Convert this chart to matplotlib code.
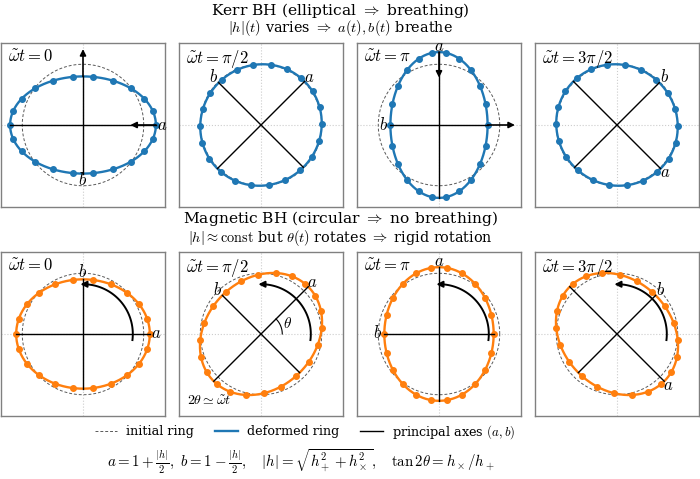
"""Ring of test particles deformed by h_+/h_x: Kerr (breathing) vs magnetic (rigid rotation)."""

import numpy as np
import matplotlib
matplotlib.use("Agg")
import matplotlib.pyplot as plt
from matplotlib.lines import Line2D

plt.rcParams["font.family"] = "serif"
plt.rcParams["font.serif"] = ["DejaVu Serif"]
plt.rcParams["mathtext.fontset"] = "cm"
plt.rcParams["axes.unicode_minus"] = False

PHASES = [r"$\tilde{\omega}t=0$", r"$\tilde{\omega}t=\pi/2$",
          r"$\tilde{\omega}t=\pi$", r"$\tilde{\omega}t=3\pi/2$"]

# Kerr: h_+ oscillates, h_x tiny -> a, b breathe
KERR_HPLUS = [0.40, 0.0, -0.40, 0.0]
KERR_HCROSS = [0.0, 0.03, 0.0, -0.03]
KERR_B_LABEL_SIDE = [-1, 1, 1, 1]
KERR_ARROWS = [True, False, True, False]
KERR_A_ARROW_TO = 0.78
KERR_B_ARROW_TO = 1.25

# magnetic: |h| fixed, polarisation angle rotates
MAG_HPLUS = [0.20, 0.0, -0.20, 0.0]
MAG_HCROSS = [0.0, 0.20, 0.0, -0.20]
MAG_SWEEP_DEG = [-7, 93]
MAG_SWEEP_R = 0.82

N_PARTICLES = 22
LIM = 1.35

BLUE = "#1f77b4"
ORANGE = "#ff7f0e"


def ring(phi, hp, hx):
    x = (1 + hp / 2) * np.cos(phi) + hx / 2 * np.sin(phi)
    y = hx / 2 * np.cos(phi) + (1 - hp / 2) * np.sin(phi)
    return x, y


def arrow(ax, tail, tip, lw=1.2):
    ax.annotate("", xy=tip, xytext=tail,
                arrowprops=dict(arrowstyle="-|>", color="k", lw=lw,
                                mutation_scale=9, shrinkA=0, shrinkB=0))


def set_fs(artist, fs):
    if hasattr(artist, "set_fontsize"):
        artist.set_fontsize(fs)
    else:
        for t in artist.get_texts():
            t.set_fontsize(fs)


def fit_width(fig, artist, target_px, fontsize):
    # scale the font so the rendered width matches the reference layout
    r = fig.canvas.get_renderer()
    for _ in range(3):
        w = artist.get_window_extent(r).width
        fontsize *= target_px / w
        set_fs(artist, fontsize)
    return fontsize


def panel(ax, hp, hx, color, title, b_side=1):
    ax.set_xlim(-LIM, LIM); ax.set_ylim(-LIM, LIM)
    ax.set_aspect("equal")
    ax.set_xticks([0]); ax.set_yticks([0])
    ax.tick_params(length=0, labelbottom=False, labelleft=False)
    ax.grid(True, ls=":", color="0.8", lw=0.8)
    for s in ax.spines.values():
        s.set_color("0.5"); s.set_linewidth(1.0)

    phi = np.linspace(0, 2 * np.pi, 400)
    ax.plot(np.cos(phi), np.sin(phi), ls="--", color="0.35", lw=0.7, dashes=(3, 2))
    x, y = ring(phi, hp, hx)
    ax.plot(x, y, color=color, lw=1.7)
    pk = 2 * np.pi * np.arange(N_PARTICLES) / N_PARTICLES
    xk, yk = ring(pk, hp, hx)
    ax.plot(xk, yk, "o", color=color, ms=4)

    hmag = np.hypot(hp, hx)
    th = 0.5 * np.arctan2(hx, hp)
    a, b = 1 + hmag / 2, 1 - hmag / 2
    u = np.array([np.cos(th), np.sin(th)])
    v = np.array([-np.sin(th), np.cos(th)])
    ax.plot([-a * u[0], a * u[0]], [-a * u[1], a * u[1]], color="k", lw=1.0)
    ax.plot([-b * v[0], b * v[0]], [-b * v[1], b * v[1]], color="k", lw=1.0)
    pa = (a + 0.1) * u
    pb = b_side * (b + 0.11) * v
    ax.text(pa[0], pa[1], "$a$", ha="center", va="center", fontsize=12)
    ax.text(pb[0], pb[1], "$b$", ha="center", va="center", fontsize=12)
    ax.text(0.04, 0.97, title, transform=ax.transAxes, ha="left", va="top", fontsize=12)
    return a, b, u, v, th


def main():
    fig = plt.figure(figsize=(7.0, 4.79), dpi=100)
    W, H = 700, 479
    lefts = [1, 179, 357, 535]
    size = 164
    tops = [43, 252]

    axes = [[fig.add_axes([l / W, (H - t - size) / H, size / W, size / H]) for l in lefts]
            for t in tops]

    for i, ax in enumerate(axes[0]):
        a, b, u, v, th = panel(ax, KERR_HPLUS[i], KERR_HCROSS[i], BLUE, PHASES[i],
                               KERR_B_LABEL_SIDE[i])
        if KERR_ARROWS[i]:
            arrow(ax, a * u, KERR_A_ARROW_TO * u)
            s = -KERR_B_LABEL_SIDE[i]
            arrow(ax, s * b * v, s * KERR_B_ARROW_TO * v)

    for i, ax in enumerate(axes[1]):
        a, b, u, v, th = panel(ax, MAG_HPLUS[i], MAG_HCROSS[i], ORANGE, PHASES[i])
        ang = np.radians(np.linspace(MAG_SWEEP_DEG[0], MAG_SWEEP_DEG[1] - 4, 100))
        ax.plot(MAG_SWEEP_R * np.cos(ang), MAG_SWEEP_R * np.sin(ang), color="k", lw=1.4)
        t0, t1 = np.radians(MAG_SWEEP_DEG[1] - 6), np.radians(MAG_SWEEP_DEG[1])
        arrow(ax, (MAG_SWEEP_R * np.cos(t0), MAG_SWEEP_R * np.sin(t0)),
              (MAG_SWEEP_R * np.cos(t1), MAG_SWEEP_R * np.sin(t1)), lw=1.4)
        if i == 1:
            sa = np.linspace(0, th, 40)
            ax.plot(0.35 * np.cos(sa), 0.35 * np.sin(sa), color="k", lw=0.8)
            ax.text(0.47 * np.cos(th / 2), 0.47 * np.sin(th / 2), r"$\theta$",
                    ha="center", va="center", fontsize=11)
            ax.text(0.05, 0.05, r"$2\theta\simeq\tilde{\omega}t$", transform=ax.transAxes,
                    ha="left", va="bottom", fontsize=10)

    cx = 340 / W
    titles = [(11, r"Kerr BH (elliptical $\Rightarrow$ breathing)", 258),
              (218.5, r"Magnetic BH (circular $\Rightarrow$ no breathing)", 315)]
    subs = [(28.5, r"$|h|(t)$ varies $\Rightarrow$ $a(t),b(t)$ breathe", 219),
            (237.5, r"$|h|\approx\mathrm{const}$ but $\theta(t)$ rotates $\Rightarrow$ rigid rotation",
             312)]
    for group, fs0 in [(titles, 11.5), (subs, 9.5)]:
        txts, sizes = [], []
        for y, s, target in group:
            t = fig.text(cx, 1 - y / H, s, ha="center", va="center", fontsize=fs0)
            sizes.append(fit_width(fig, t, target, fs0))
            txts.append(t)
        # same size for the pair, as in the reference
        for t in txts:
            t.set_fontsize(np.mean(sizes))

    handles = [Line2D([], [], ls="--", color="0.35", lw=0.7, dashes=(3, 2)),
               Line2D([], [], color=BLUE, lw=1.7),
               Line2D([], [], color="k", lw=1.0)]
    labels = ["initial ring", "deformed ring", "principal axes $(a,b)$"]
    leg = fig.legend(handles, labels, loc="center", bbox_to_anchor=(305 / W, 1 - 432 / H),
                     ncol=3, frameon=False, fontsize=9.5, handlelength=1.7,
                     handletextpad=0.7, columnspacing=1.6, borderpad=0)
    fit_width(fig, leg, 421, 9.5)

    f = fig.text(301 / W, 1 - 462 / H,
                 r"$a=1+\frac{|h|}{2},\ b=1-\frac{|h|}{2},\quad |h|=\sqrt{h_+^2+h_\times^2},"
                 r"\quad \tan 2\theta=h_\times/h_+$",
                 ha="center", va="center", fontsize=11)
    fit_width(fig, f, 388, 11)

    fig.savefig("out.png", dpi=100)


if __name__ == "__main__":
    main()
